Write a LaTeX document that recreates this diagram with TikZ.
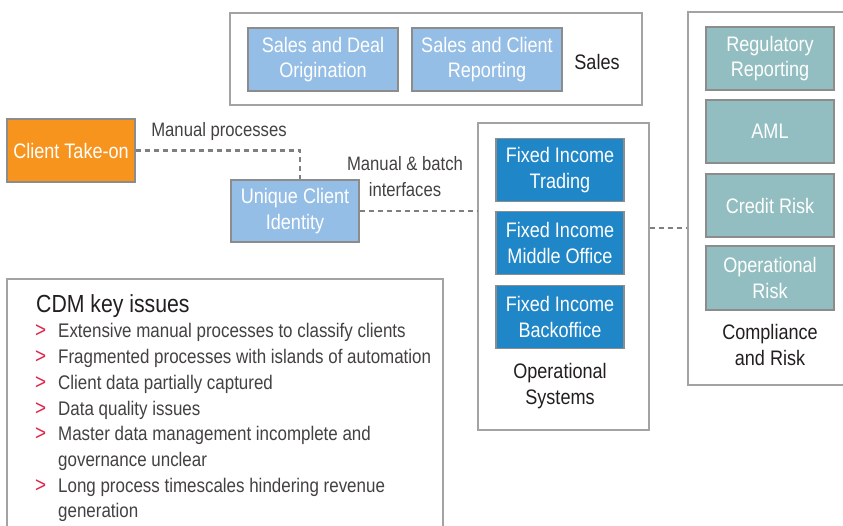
\documentclass[tikz,border=0pt]{standalone}
\usepackage{fontspec}
\setmainfont{Liberation Sans}[FakeStretch=0.86]
\usetikzlibrary{positioning}
\definecolor{salesblue}{HTML}{95BEE6}
\definecolor{opsblue}{HTML}{1F86C8}
\definecolor{riskteal}{HTML}{93BEC1}
\definecolor{takeon}{HTML}{F7941D}
\definecolor{frame}{HTML}{A3A3A3}
\definecolor{ink}{HTML}{231F20}
\definecolor{bulletred}{HTML}{E2264B}
\definecolor{linkgray}{HTML}{7F7F7F}

\tikzset{
  group/.style={draw=frame, line width=1.3pt, fill=white, inner sep=0pt},
  sysbox/.style={draw=gray!90, line width=1.3pt, text=white, align=center,
    minimum width=128pt, minimum height=63pt, inner sep=0pt,
    font=\fontsize{21}{25.5}\selectfont},
  salesbox/.style={sysbox, fill=salesblue, minimum width=150pt},
  opsbox/.style={sysbox, fill=opsblue},
  riskbox/.style={sysbox, fill=riskteal},
  grouplabel/.style={text=ink, align=center, font=\fontsize{21}{26}\selectfont},
  note/.style={text=ink!85, align=center, font=\fontsize{19.4}{26}\selectfont},
  issue/.style={text=ink!85, anchor=base west, inner sep=0pt, font=\fontsize{19.7}{25.5}\selectfont},
  link/.style={draw=linkgray, line width=2.3pt, dash pattern=on 5pt off 4pt}
}

\begin{document}
\begin{tikzpicture}[x=1pt,y=-1pt]
  \useasboundingbox (0,0) rectangle (843,526);
  % Sales group along the top
  \node[group, minimum width=412pt, minimum height=92pt] (salesgrp) at (436,59) {};
  \node[salesbox] (deal) at (323,59.5) {Sales and Deal\\Origination};
  \node[salesbox] (clientrep) at (487,59.5) {Sales and Client\\Reporting};
  \node[grouplabel] (saleslbl) at (597,62) {Sales};
  % client take-on and identity
  \node[sysbox, fill=takeon] (takeon) at (71,150.5) {Client Take-on};
  \node[sysbox, fill=salesblue, minimum height=62pt] (uci) at (295,211) {Unique Client\\Identity};
  \node[note] (manual) at (219,131) {Manual processes};
  \node[note] (batch) at (405,177) {Manual \& batch\\interfaces};
  % operational systems
  \node[group, minimum width=171pt, minimum height=307pt] (opsgrp) at (563.5,276.5) {};
  \node[opsbox] (fitrade) at (560,170) {Fixed Income\\Trading};
  \node[opsbox] (fimid) at (560,243) {Fixed Income\\Middle Office};
  \node[opsbox] (fiback) at (560,317) {Fixed Income\\Backoffice};
  \node[grouplabel] (opslbl) at (560,386) {Operational\\Systems};
  % compliance and risk (runs off the right edge)
  \node[group, minimum width=182pt, minimum height=373pt] (riskgrp) at (779,198.5) {};
  \node[riskbox] (regrep) at (770,58.5) {Regulatory\\Reporting};
  \node[riskbox] (aml) at (770,131.5) {AML};
  \node[riskbox] (credit) at (770,205.5) {Credit Risk};
  \node[riskbox, minimum height=64pt] (oprisk) at (770,278) {Operational\\Risk};
  \node[grouplabel] (risklbl) at (770,345) {Compliance\\and Risk};
  % dashed links
  \draw[link] (takeon.east) -| ([xshift=5pt]uci.north);
  \draw[link] (uci.east) -- (uci.east -| opsgrp.west);
  \draw[link] ([yshift=48.5pt]opsgrp.east) -- ([yshift=48.5pt]opsgrp.east -| riskgrp.west);
  % key issues panel
  \node[group, minimum width=436pt, minimum height=261pt] (issues) at (225,409.5) {};
  \node[issue, text=ink, font=\fontsize{24.7}{28}\selectfont] (title) at (36,312.7) {CDM key issues};
  \foreach \y/\m/\txt in {338/>/Extensive manual processes to classify clients,
      363.7/>/Fragmented processes with islands of automation,
      389.4/>/Client data partially captured,
      415/>/Data quality issues,
      440.8/>/Master data management incomplete and,
      466.5//governance unclear,
      492/>/Long process timescales hindering revenue,
      517.7//generation}
  {
    \node[issue, text=bulletred, font=\fontsize{22}{25}\selectfont] at (35,\y) {\m};
    \node[issue] at (58,\y) {\txt};
  }
\end{tikzpicture}
\end{document}
